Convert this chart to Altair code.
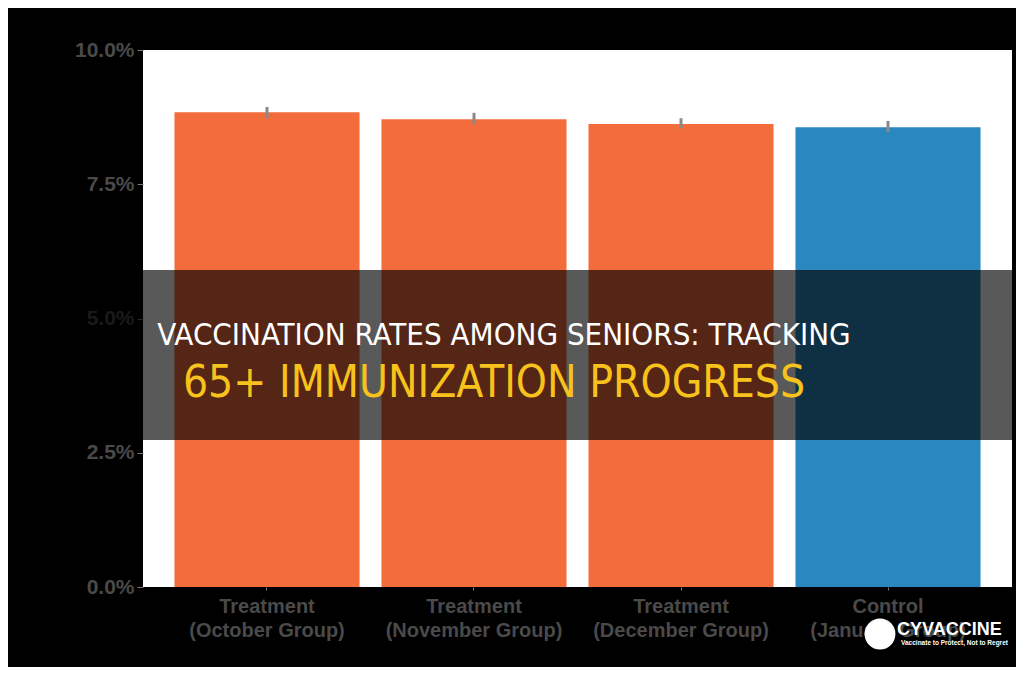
import altair as alt
import pandas as pd

# ---- data ----
groups = ["Treatment\n(October Group)", "Treatment\n(November Group)",
          "Treatment\n(December Group)", "Control\n(January Group)"]
rates = [0.0884, 0.0871, 0.0862, 0.0856]
err_lo = [0.0873, 0.0862, 0.0854, 0.0847]
err_hi = [0.0894, 0.0883, 0.0873, 0.0868]
kinds = ["Treatment", "Treatment", "Treatment", "Control"]
y_ticks = [0.0, 0.025, 0.05, 0.075, 0.10]

title_line1 = "VACCINATION RATES AMONG SENIORS: TRACKING"
title_line2 = "65+ IMMUNIZATION PROGRESS"
logo_name = "CYVACCINE"
logo_tag = "Vaccinate to Protect, Not to Regret"

df = pd.DataFrame({"group": groups, "rate": rates, "lo": err_lo,
                   "hi": err_hi, "kind": kinds})
one = pd.DataFrame({"a": [1]})

W, H = 869, 537
AXIS_GRAY = "#4a4a4a"
TITLE_FONT = "'DejaVu Sans Condensed', 'Liberation Sans', sans-serif"

x_enc = alt.X("group:N", sort=groups, title=None,
              scale=alt.Scale(paddingInner=0.106, paddingOuter=0.152),
              axis=alt.Axis(labelAngle=0, labelExpr="split(datum.label, '\\n')",
                            labelFont="Liberation Sans", labelFontWeight="bold",
                            labelFontSize=20, labelColor=AXIS_GRAY, labelLineHeight=24,
                            labelPadding=6, tickSize=3, tickColor="#777777",
                            domain=False))
y_scale = alt.Scale(domain=[0, 0.10])
y_axis = alt.Axis(values=y_ticks, format=".1%", title=None, grid=False, domain=False,
                  labelFont="Liberation Sans", labelFontWeight="bold", labelFontSize=21,
                  labelColor=AXIS_GRAY, tickColor="#777777", tickSize=6, labelPadding=3)

bars = alt.Chart(df).mark_bar().encode(
    x=x_enc,
    y=alt.Y("rate:Q", scale=y_scale, axis=y_axis),
    color=alt.Color("kind:N", scale=alt.Scale(domain=["Treatment", "Control"],
                                              range=["#f36c3c", "#2b87bf"]), legend=None),
)

errs = alt.Chart(df).mark_rule(color="#8a8a8a", strokeWidth=3).encode(
    x=alt.X("group:N", sort=groups),
    y=alt.Y("lo:Q", scale=y_scale),
    y2="hi:Q",
)

band = alt.Chart(one).mark_rect(color="black", opacity=0.65).encode(
    x=alt.value(-150), x2=alt.value(W + 30),
    y=alt.value(220), y2=alt.value(390),
)

t1 = alt.Chart(pd.DataFrame({"t": [title_line1]})).mark_text(
    font=TITLE_FONT, fontSize=31, color="white", align="center",
    baseline="middle").encode(x=alt.value(361), y=alt.value(286), text="t:N")

t2 = alt.Chart(pd.DataFrame({"t": [title_line2]})).mark_text(
    font=TITLE_FONT, fontSize=44, color="#f7c21b", align="center",
    baseline="middle").encode(x=alt.value(351), y=alt.value(334), text="t:N")

logo_dot = alt.Chart(one).mark_point(
    filled=True, color="white", size=950, opacity=1).encode(
    x=alt.value(737), y=alt.value(584))

logo_txt = alt.Chart(pd.DataFrame({"t": [logo_name]})).mark_text(
    font="Liberation Sans", fontWeight="bold", fontSize=18, color="white",
    align="left", baseline="middle").encode(x=alt.value(754), y=alt.value(580), text="t:N")

logo_tag_txt = alt.Chart(pd.DataFrame({"t": [logo_tag]})).mark_text(
    font="Liberation Sans", fontWeight="bold", fontSize=6.5, color="white",
    align="left", baseline="middle").encode(x=alt.value(758), y=alt.value(593), text="t:N")

chart = alt.layer(bars, errs, band, t1, t2, logo_dot, logo_txt, logo_tag_txt).properties(
    width=W, height=H,
    autosize=alt.AutoSizeParams(type="none"),
    padding={"left": 135, "top": 42, "right": 4, "bottom": 80},
    background="black",
).configure_view(fill="white", stroke=None)

chart.save("out.html", embed_options={"renderer": "svg", "actions": False})
